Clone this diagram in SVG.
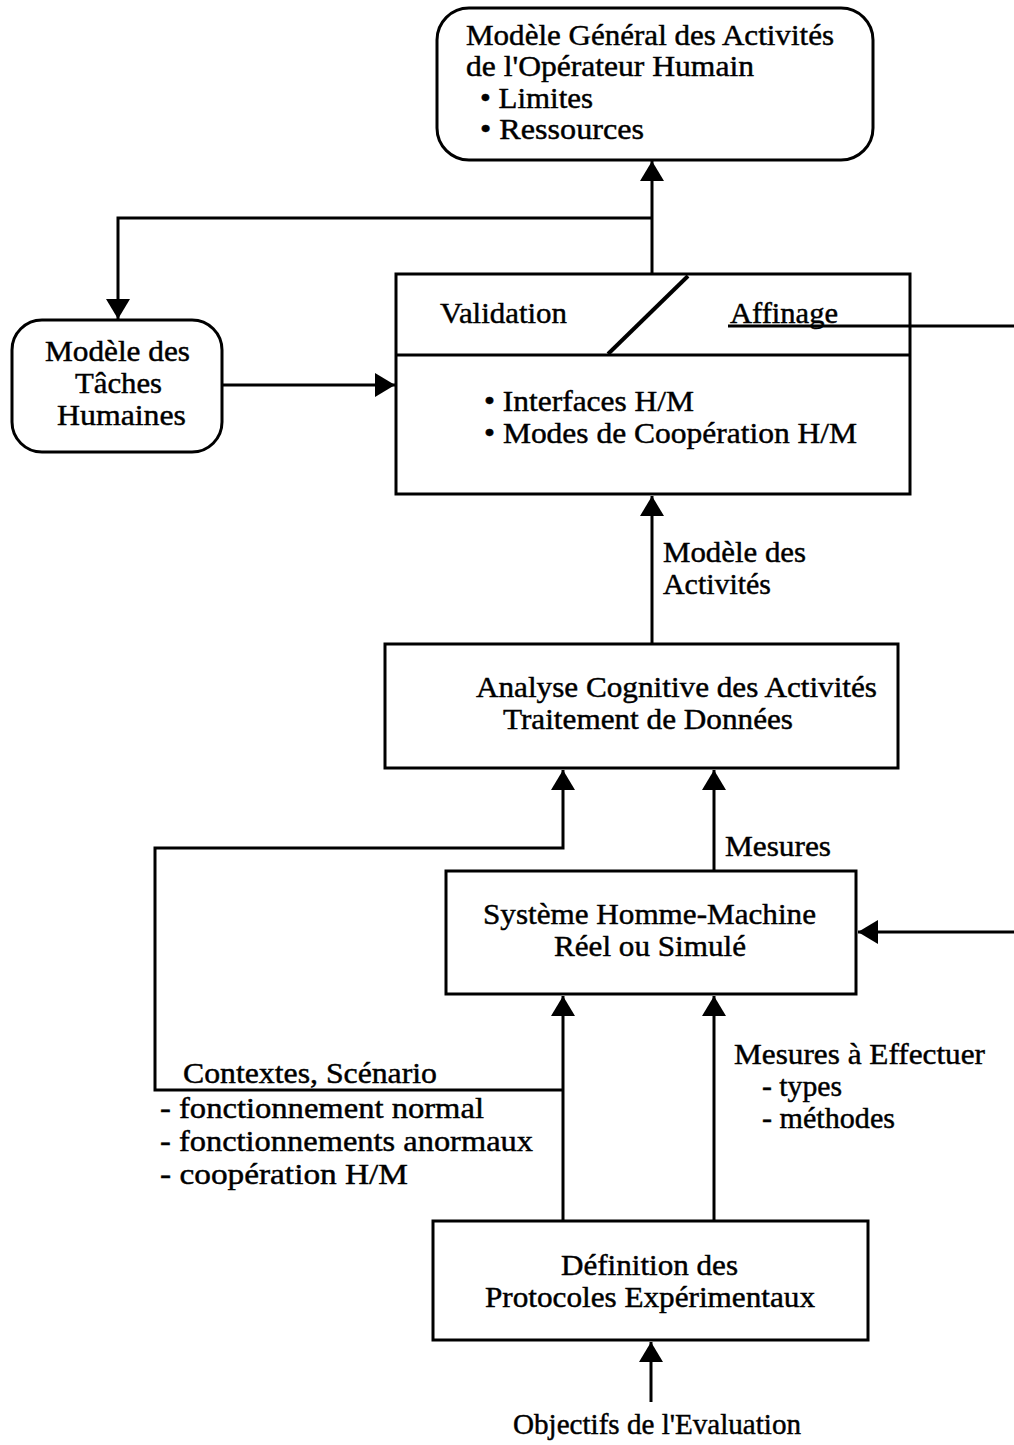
<svg xmlns="http://www.w3.org/2000/svg" width="1014" height="1445" viewBox="0 0 1014 1445">
<style>
.b{fill:#fff;stroke:#000;stroke-width:3}
.l{fill:none;stroke:#000;stroke-width:3}
.t{font-family:"Liberation Serif","Times New Roman",serif;font-size:30px;fill:#000;stroke:#000;stroke-width:0.45}
</style>
<defs>
<marker id="ah" viewBox="0 0 20 24" refX="20" refY="12" markerWidth="20" markerHeight="24" markerUnits="userSpaceOnUse" orient="auto">
<path d="M0,0 L20,12 L0,24 z" fill="#000"/>
</marker>
</defs>
<rect width="1014" height="1445" fill="#fff"/>
<g id="modele-general">
<rect class="b" x="437" y="8" width="436" height="152" rx="32"/>
<text class="t" x="466" y="45" textLength="368" lengthAdjust="spacingAndGlyphs">Modèle Général des Activités</text>
<text class="t" x="466" y="76" textLength="288" lengthAdjust="spacingAndGlyphs">de l'Opérateur Humain</text>
<text class="t" x="480" y="108" textLength="113" lengthAdjust="spacingAndGlyphs">• Limites</text>
<text class="t" x="480" y="139" textLength="164" lengthAdjust="spacingAndGlyphs">• Ressources</text>
</g>
<g id="modele-taches">
<rect class="b" x="12" y="320" width="210" height="132" rx="30"/>
<text class="t" x="45" y="361" textLength="145" lengthAdjust="spacingAndGlyphs">Modèle des</text>
<text class="t" x="75" y="393" textLength="87" lengthAdjust="spacingAndGlyphs">Tâches</text>
<text class="t" x="57" y="425" textLength="129" lengthAdjust="spacingAndGlyphs">Humaines</text>
</g>
<g id="validation">
<rect class="b" x="396" y="274" width="514" height="220"/>
<path class="l" d="M396,355 H910"/>
<path class="l" d="M688,276 L608,354" style="stroke-width:4"/>
<text class="t" x="440" y="323" textLength="127" lengthAdjust="spacingAndGlyphs">Validation</text>
<text class="t" x="730" y="323" textLength="108" lengthAdjust="spacingAndGlyphs">Affinage</text>
<text class="t" x="484" y="411" textLength="210" lengthAdjust="spacingAndGlyphs">• Interfaces H/M</text>
<text class="t" x="484" y="443" textLength="373" lengthAdjust="spacingAndGlyphs">• Modes de Coopération H/M</text>
</g>
<g id="label-modele-activites">
<text class="t" x="663" y="562" textLength="143" lengthAdjust="spacingAndGlyphs">Modèle des</text>
<text class="t" x="663" y="594" textLength="108" lengthAdjust="spacingAndGlyphs">Activités</text>
</g>
<g id="analyse">
<rect class="b" x="385" y="644" width="513" height="124"/>
<text class="t" x="476" y="697" textLength="401" lengthAdjust="spacingAndGlyphs">Analyse Cognitive des Activités</text>
<text class="t" x="503" y="729" textLength="290" lengthAdjust="spacingAndGlyphs">Traitement de Données</text>
</g>
<g id="label-mesures">
<text class="t" x="725" y="856" textLength="106" lengthAdjust="spacingAndGlyphs">Mesures</text>
</g>
<g id="systeme">
<rect class="b" x="446" y="871" width="410" height="123"/>
<text class="t" x="483" y="924" textLength="333" lengthAdjust="spacingAndGlyphs">Système Homme-Machine</text>
<text class="t" x="554" y="956" textLength="192" lengthAdjust="spacingAndGlyphs">Réel ou Simulé</text>
</g>
<g id="label-contextes">
<text class="t" x="183" y="1083" textLength="254" lengthAdjust="spacingAndGlyphs">Contextes, Scénario</text>
<text class="t" x="160" y="1118" textLength="324" lengthAdjust="spacingAndGlyphs">- fonctionnement normal</text>
<text class="t" x="160" y="1151" textLength="373" lengthAdjust="spacingAndGlyphs">- fonctionnements anormaux</text>
<text class="t" x="160" y="1184" textLength="248" lengthAdjust="spacingAndGlyphs">- coopération H/M</text>
</g>
<g id="label-mesures-effectuer">
<text class="t" x="734" y="1064" textLength="251" lengthAdjust="spacingAndGlyphs">Mesures à Effectuer</text>
<text class="t" x="762" y="1096" textLength="80" lengthAdjust="spacingAndGlyphs">- types</text>
<text class="t" x="762" y="1128" textLength="133" lengthAdjust="spacingAndGlyphs">- méthodes</text>
</g>
<g id="definition">
<rect class="b" x="433" y="1221" width="435" height="119"/>
<text class="t" x="561" y="1275" textLength="177" lengthAdjust="spacingAndGlyphs">Définition des</text>
<text class="t" x="485" y="1307" textLength="330" lengthAdjust="spacingAndGlyphs">Protocoles Expérimentaux</text>
</g>
<g id="objectifs">
<text class="t" x="513" y="1434" textLength="288" lengthAdjust="spacingAndGlyphs">Objectifs de l'Evaluation</text>
</g>
<g id="connectors">
<path class="l" d="M652,273 V161" marker-end="url(#ah)"/>
<path class="l" d="M652,218 H118 V319" marker-end="url(#ah)"/>
<path class="l" d="M222,385 H395" marker-end="url(#ah)"/>
<path class="l" d="M728,326 H1014"/>
<path class="l" d="M652,644 V496" marker-end="url(#ah)"/>
<path class="l" d="M563,1222 V996" marker-end="url(#ah)"/>
<path class="l" d="M714,1222 V996" marker-end="url(#ah)"/>
<path class="l" d="M563,1090 H155 V848 H563 V770" marker-end="url(#ah)"/>
<path class="l" d="M714,871 V770" marker-end="url(#ah)"/>
<path class="l" d="M1014,932 H858" marker-end="url(#ah)"/>
<path class="l" d="M651,1402 V1342" marker-end="url(#ah)"/>
</g>
</svg>
